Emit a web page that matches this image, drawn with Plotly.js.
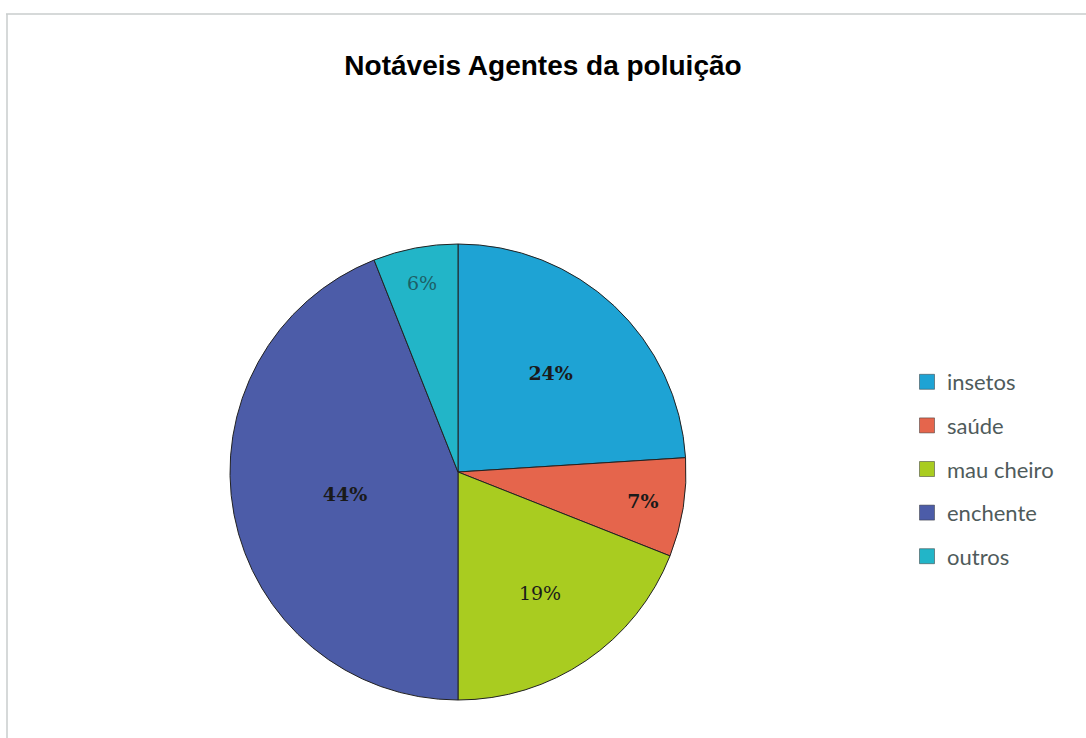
<!DOCTYPE html>
<html>
<head>
<meta charset="utf-8">
<script src="https://cdn.plot.ly/plotly-3.0.1.min.js"></script>
<style>html,body{margin:0;padding:0;background:#fff;}#chart{width:1086px;height:738px;}</style>
</head>
<body>
<div id="chart"></div>
<script>
const categories = ["insetos", "saúde", "mau cheiro", "enchente", "outros"];
const values = [24, 7, 19, 44, 6];
const sliceColors = ["#1ea3d4", "#e5654c", "#a9cc20", "#4c5ca8", "#22b5c8"];
const titleText = "Notáveis Agentes da poluição";

const W = 1086, H = 738;
const cx = 458, cy = 472, r = 228;

const pieTrace = {
  type: "pie",
  labels: categories,
  values: values,
  sort: false,
  direction: "clockwise",
  rotation: 0,
  showlegend: false,
  marker: { colors: sliceColors, line: { color: "#222", width: 1 } },
  texttemplate: "%{percent:.0%}",
  textposition: "inside",
  insidetextorientation: "horizontal",
  insidetextfont: {
    family: "DejaVu Serif, serif", size: 19,
    color: ["#1a1a1a", "#1a1a1a", "#1a1a1a", "#1a1a1a", "#1d5f66"],
    weight: [700, 700, 400, 700, 400]
  },
  domain: { x: [(cx - r) / W, (cx + r) / W], y: [1 - (cy + r) / H, 1 - (cy - r) / H] },
  hoverinfo: "label+percent"
};

// Legend entries built from the same categories and colours
const legendTraces = categories.map((c, i) => ({
  type: "scatter", mode: "markers",
  x: [null], y: [null],
  name: c,
  legendgroup: "g" + i,
  marker: { symbol: "square", size: 15, color: sliceColors[i], line: { color: "#333", width: 0.5 } },
  showlegend: true, hoverinfo: "skip"
}));

const layout = {
  width: W, height: H,
  margin: { l: 0, r: 0, t: 0, b: 0 },
  paper_bgcolor: "#ffffff",
  plot_bgcolor: "rgba(0,0,0,0)",
  xaxis: { visible: false },
  yaxis: { visible: false },
  title: {
    text: "<b>" + titleText + "</b>",
    font: { family: "Liberation Sans, Arial, sans-serif", size: 28, color: "#000" },
    x: 0.5, xanchor: "center", y: 1 - 65 / H, yanchor: "middle"
  },
  showlegend: true,
  legend: {
    x: 907 / W, xanchor: "left", y: 1 - 361 / H, yanchor: "top",
    font: { family: "Lato, sans-serif", size: 22, color: "#4f5b5b" },
    itemwidth: 30, tracegroupgap: 12,
    traceorder: "grouped",
    bgcolor: "rgba(0,0,0,0)"
  },
  shapes: [
    { type: "line", xref: "paper", yref: "paper", x0: 6 / W, x1: 1, y0: 1 - 14 / H, y1: 1 - 14 / H, line: { color: "#c8cccc", width: 1.5 } },
    { type: "line", xref: "paper", yref: "paper", x0: 7 / W, x1: 7 / W, y0: 0, y1: 1 - 14 / H, line: { color: "#c8cccc", width: 1.5 } }
  ]
};

Plotly.newPlot("chart", [pieTrace].concat(legendTraces), layout, { displayModeBar: false, staticPlot: true });
</script>
</body>
</html>
